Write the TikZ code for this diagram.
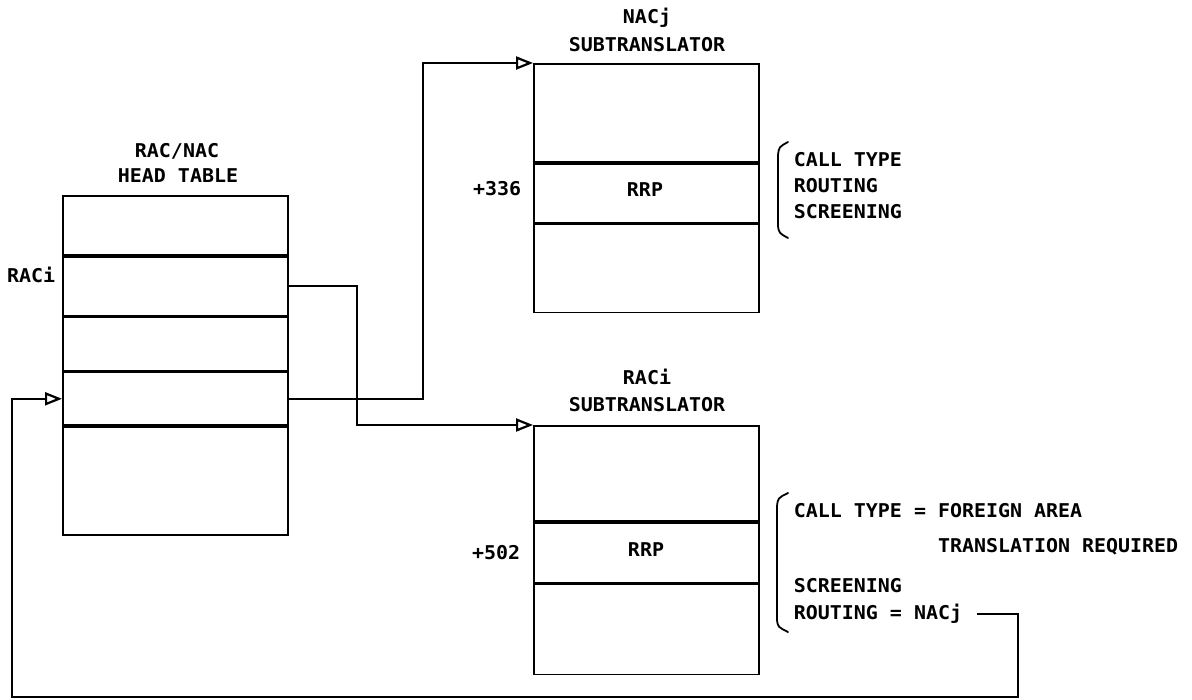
\documentclass[tikz,border=0pt]{standalone}
\usepackage{fontspec}
\setmainfont{DejaVu Sans Mono}[FakeStretch=1.05]
\usetikzlibrary{arrows.meta}
\begin{document}
\begin{tikzpicture}[x=1pt,y=-1pt,line width=1.8pt,
  txt/.style={font=\fontsize{19}{23}\selectfont\bfseries, inner sep=0pt, anchor=base},
  lbl/.style={txt, anchor=base west},
  cell/.style={draw, rectangle, inner sep=0pt, minimum width=225pt, anchor=north west, line width=1.8pt},
  arr/.style={-{Triangle[open,length=17pt,width=13pt,line width=2.2pt]}},
  brace/.style={line width=1.8pt, line cap=round}]
\useasboundingbox (0,0) rectangle (1192,700);

% head table
\node[cell,minimum height=59pt] (h1) at (62,195) {};
\node[cell,minimum height=59pt] (h2) at (h1.south west) {};
\node[cell,minimum height=53pt] (h3) at (h2.south west) {};
\node[cell,minimum height=53pt] (h4) at (h3.south west) {};
\node[cell,minimum height=108pt] (h5) at (h4.south west) {};
\node[txt] (ht1) at (177,158) {RAC/NAC};
\node[txt] (ht2) at (178,183) {HEAD TABLE};
\node[txt,anchor=base east] (raci) at (56,283) {RACi};

% NACj subtranslator
\node[cell,minimum height=98pt] (n1) at (533,63) {};
\node[cell,minimum height=59pt] (n2) at (n1.south west) {};
\node[cell,minimum height=88pt] (n3) at (n2.south west) {};
\node[txt] (nt1) at (647,24) {NACj};
\node[txt] (nt2) at (647,52) {SUBTRANSLATOR};
\node[txt] (rrp1) at (645,197) {RRP};
\node[txt,anchor=base east] (o1) at (522,196) {+336};

% RACi subtranslator
\node[cell,minimum height=95pt] (r1) at (533,425) {};
\node[cell,minimum height=60pt] (r2) at (r1.south west) {};
\node[cell,minimum height=90pt] (r3) at (r2.south west) {};
\node[txt] (rt1) at (647,385) {RACi};
\node[txt] (rt2) at (647,412) {SUBTRANSLATOR};
\node[txt] (rrp2) at (646,556) {RRP};
\node[txt,anchor=base east] (o2) at (521,559) {+502};

% upper notes
\draw[brace] (788,142) .. controls (779,147) .. (778,155) -- (778,226) .. controls (779,233) .. (788,238);
\node[lbl] (a1) at (793,167) {CALL TYPE};
\node[lbl] (a2) at (793,193) {ROUTING};
\node[lbl] (a3) at (793,219) {SCREENING};

% lower notes
\draw[brace] (788,493) .. controls (778,498) .. (777,506) -- (777,620) .. controls (778,627) .. (788,632);
\node[lbl] (b1) at (793,518) {CALL TYPE = FOREIGN AREA};
\node[lbl] (b2) at (793,552) {\phantom{CALL TYPE = }TRANSLATION REQUIRED};
\node[lbl] (b3) at (793,592) {SCREENING};
\node[lbl] (b4) at (793,619) {ROUTING = NACj};

% connectors
\coordinate (k1) at (357,425);
\coordinate (k2) at (423,63);
\draw[arr] (h2.east) -| (k1) -- (r1.north west);
\draw[arr] (h4.east) -| (k2) -- (n1.north west);

\coordinate (c0) at (977,614);
\coordinate (c1) at (1018,614);
\coordinate (c2) at (1018,697);
\coordinate (c3) at (12,697);
\draw[arr] (c0) -- (c1) -- (c2) -- (c3) |- (h4.west);
\end{tikzpicture}
\end{document}
